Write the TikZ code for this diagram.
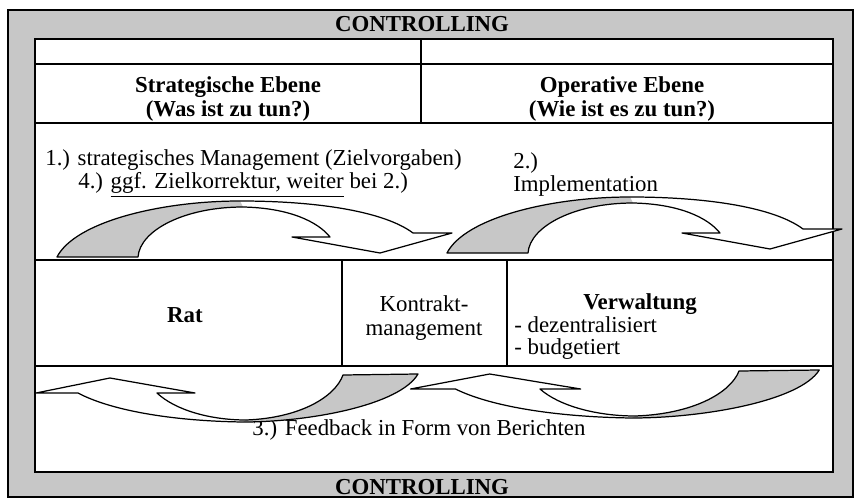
\documentclass[tikz,border=0pt]{standalone}
\usepackage{fontspec}
\setmainfont{Liberation Serif}
\usepackage{tikz}
\tikzstyle{every node}=[inner sep=0pt, font=\fontsize{13}{15}\selectfont]
\tikzstyle{heading}=[font=\fontsize{13}{15}\selectfont\bfseries]
\tikzstyle{frame}=[fill=black!22, draw=black, line width=0.6pt]
\tikzstyle{rule}=[draw=black, line width=0.8pt]
\tikzstyle{band}=[draw=black, line width=0.7pt, line join=round]
\tikzstyle{shaded}=[fill=black!22]

\begin{document}
\begin{tikzpicture}[x=0.02cm, y=-0.02cm]
	\useasboundingbox (0,0) rectangle (856,500);
	% outer controlling frame and table
	\draw[frame] (8,10) rectangle (853,497);
	\draw[rule, fill=white] (35,39) rectangle (833,472);
	\draw[rule] (35,64) -- (833,64);
	\draw[rule] (35,123) -- (833,123);
	\draw[rule] (421,39) -- (421,123);
	\draw[rule] (35,260) -- (833,260);
	\draw[rule] (35,366) -- (833,366);
	\draw[rule] (342,260) -- (342,366);
	\draw[rule] (507,260) -- (507,366);

	\node[heading, anchor=base] (ctop) at (422,32) {CONTROLLING};
	\node[heading, anchor=base] (ctrl) at (422,494) {CONTROLLING};

	\node[heading, anchor=base] (strat) at (228,93) {Strategische Ebene};
	\node[heading, anchor=base] (was) at (228,117) {(Was ist zu tun?)};
	\node[heading, anchor=base] (oper) at (622,93) {Operative Ebene};
	\node[heading, anchor=base] (wie) at (622,117) {(Wie ist es zu tun?)};

	\node[anchor=base west] (step1) at (45,166) {1.) strategisches Management (Zielvorgaben)};
	\node[anchor=base west] (step4) at (78,189) {4.) \underline{ggf. Zielkorrektur, weiter} bei 2.)};
	\node[anchor=base west] (step2) at (513,169) {2.)};
	\node[anchor=base west] (impl) at (513,192) {Implementation};

	\node[heading, anchor=base] (rat) at (185,322) {Rat};
	\node[anchor=base] (kontr) at (424,311) {Kontrakt-};
	\node[anchor=base] (mgmt) at (424,335) {management};
	\node[heading, anchor=base] (verw) at (640,309) {Verwaltung};
	\node[anchor=base west] (dez) at (514,332) {- dezentralisiert};
	\node[anchor=base west] (budg) at (514,354) {- budgetiert};

	\node[anchor=base] (feedb) at (419,435) {3.) Feedback in Form von Berichten};

	% upper arrows: Rat -> Verwaltung
	\foreach \dx/\dy in {0/0, 390/-4} {
	\begin{scope}[shift={(\dx,\dy)}]
		\fill[white] (57,257) .. controls (75,222) and (160,201) .. (240,201)
			.. controls (320,201) and (385,212) .. (413,233) -- (452,233) -- (380,253)
			-- (292,237) -- (330,237) .. controls (318,222) and (290,208) .. (243,207)
			.. controls (185,207) and (140,230) .. (138,257) -- cycle;
		\fill[shaded] (57,257) .. controls (75,222) and (160,201) .. (240,201)
			-- (243,207) .. controls (185,207) and (140,230) .. (138,257) -- cycle;
		\draw[band] (57,257) .. controls (75,222) and (160,201) .. (240,201)
			.. controls (320,201) and (385,212) .. (413,233) -- (452,233) -- (380,253)
			-- (292,237) -- (330,237) .. controls (318,222) and (290,208) .. (243,207)
			.. controls (185,207) and (140,230) .. (138,257) -- cycle;
	\end{scope}
	}

	% lower arrows: feedback
	\foreach \dx/\dy/\sc in {0/0/1, 372/-4/1.07} {
	\begin{scope}[shift={(\dx,\dy)}, xscale=\sc]
		\fill[white] (418,374) .. controls (400,405) and (310,422) .. (243,422)
			.. controls (170,421) and (110,410) .. (78,393) -- (36,393) -- (110,378)
			-- (195,393) -- (157,393) .. controls (175,410) and (210,420) .. (246,420)
			.. controls (300,418) and (335,397) .. (343,375) -- cycle;
		\fill[shaded] (418,374) .. controls (400,405) and (310,422) .. (243,422)
			-- (246,420) .. controls (300,418) and (335,397) .. (343,375) -- cycle;
		\draw[band] (418,374) .. controls (400,405) and (310,422) .. (243,422)
			.. controls (170,421) and (110,410) .. (78,393) -- (36,393) -- (110,378)
			-- (195,393) -- (157,393) .. controls (175,410) and (210,420) .. (246,420)
			.. controls (300,418) and (335,397) .. (343,375) -- cycle;
	\end{scope}
	}
\end{tikzpicture}
\end{document}
